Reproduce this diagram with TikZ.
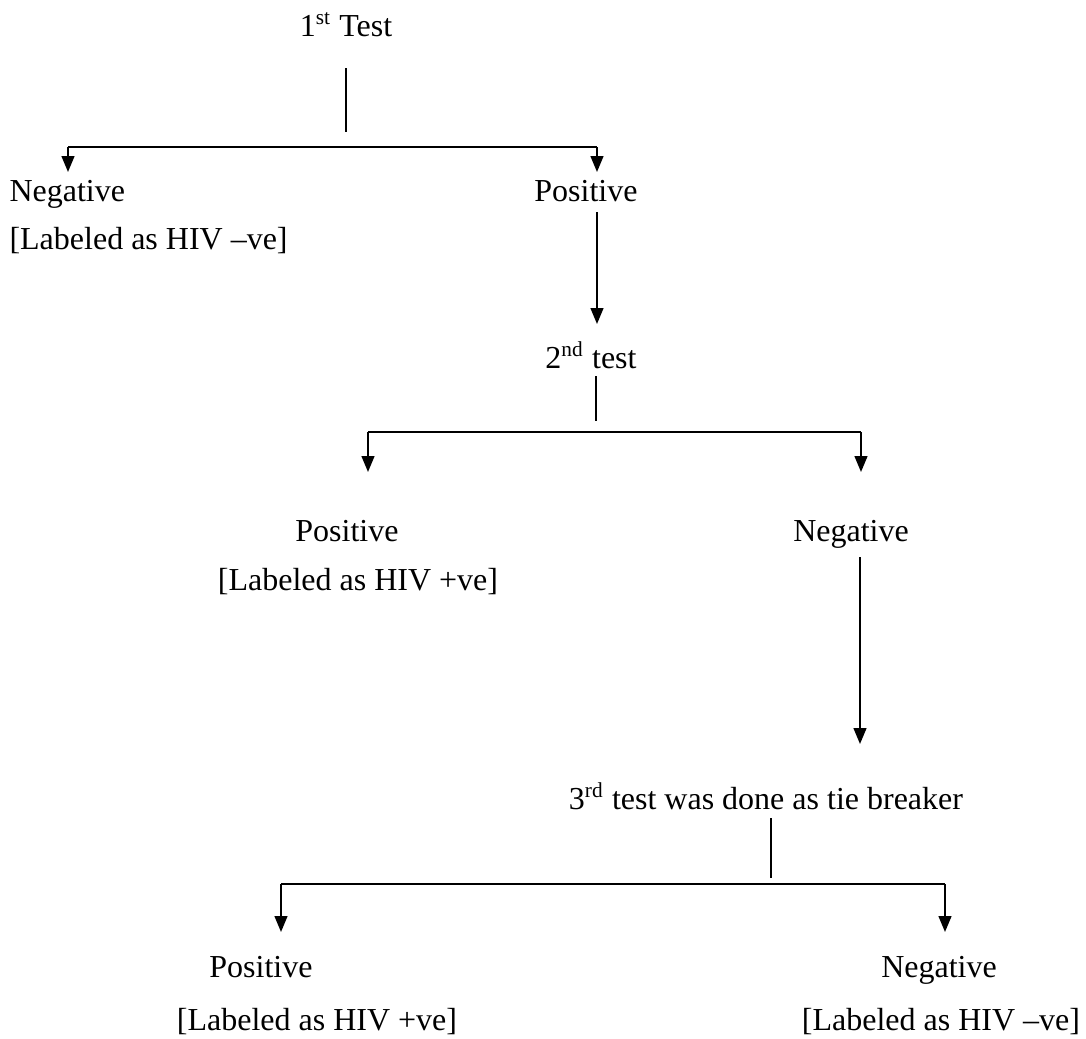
\documentclass[tikz,border=0pt]{standalone}
\usepackage{fontspec}
\setmainfont{Liberation Serif}
\usetikzlibrary{arrows.meta}
\begin{document}
\begin{tikzpicture}[x=0.375pt,y=-0.375pt,
  lbl/.style={inner sep=0pt,font=\fontsize{12pt}{14pt}\selectfont},
  conn/.style={line width=0.75pt},
  arr/.style={line width=0.75pt,-{Triangle[length=6pt,width=4.8pt]}}]
\useasboundingbox (0,0) rectangle (1086,1038);
% texts
\node[lbl,anchor=base] (t1) at (346,36) {1\textsuperscript{st} Test};
\node[lbl,anchor=base west] (neg1) at (9,201) {Negative};
\node[lbl,anchor=base west] (neg1l) at (9,249) {[Labeled as HIV –ve]};
\node[lbl,anchor=base] (pos1) at (586,201) {Positive};
\node[lbl,anchor=base] (t2) at (591,368) {2\textsuperscript{nd} test};
\node[lbl,anchor=base] (pos2) at (347,541) {Positive};
\node[lbl,anchor=base] (pos2l) at (358,590) {[Labeled as HIV +ve]};
\node[lbl,anchor=base] (neg2) at (851,541) {Negative};
\node[lbl,anchor=base] (t3) at (766,809) {3\textsuperscript{rd} test was done as tie breaker};
\node[lbl,anchor=base] (pos3) at (261,977) {Positive};
\node[lbl,anchor=base] (pos3l) at (317,1030) {[Labeled as HIV +ve]};
\node[lbl,anchor=base] (neg3) at (939,977) {Negative};
\node[lbl,anchor=base] (neg3l) at (941,1030) {[Labeled as HIV –ve]};
% coordinates
\coordinate (s1a) at (346,68); \coordinate (s1b) at (346,132);
\coordinate (b1l) at (68,147); \coordinate (b1r) at (597,147);
\coordinate (a1l) at (68,172); \coordinate (a1r) at (597,172);
\coordinate (p1a) at (597,212); \coordinate (p1b) at (597,324);
\coordinate (s2a) at (596,376); \coordinate (s2b) at (596,421);
\coordinate (b2l) at (368,432); \coordinate (b2r) at (861,432);
\coordinate (a2l) at (368,472); \coordinate (a2r) at (861,472);
\coordinate (n2a) at (860,557); \coordinate (n2b) at (860,744);
\coordinate (s3a) at (771,818); \coordinate (s3b) at (771,878);
\coordinate (b3l) at (281,884); \coordinate (b3r) at (945,884);
\coordinate (a3l) at (281,932); \coordinate (a3r) at (945,932);
% connectors
\draw[conn] (s1a) -- (s1b);
\draw[arr] (b1l) -- (a1l);
\draw[arr] (b1r) -- (a1r);
\draw[conn] (b1l) -- (b1r);
\draw[arr] (p1a) -- (p1b);
\draw[conn] (s2a) -- (s2b);
\draw[conn] (b2l) -- (b2r);
\draw[arr] (b2l) -- (a2l);
\draw[arr] (b2r) -- (a2r);
\draw[arr] (n2a) -- (n2b);
\draw[conn] (s3a) -- (s3b);
\draw[conn] (b3l) -- (b3r);
\draw[arr] (b3l) -- (a3l);
\draw[arr] (b3r) -- (a3r);
\end{tikzpicture}
\end{document}
